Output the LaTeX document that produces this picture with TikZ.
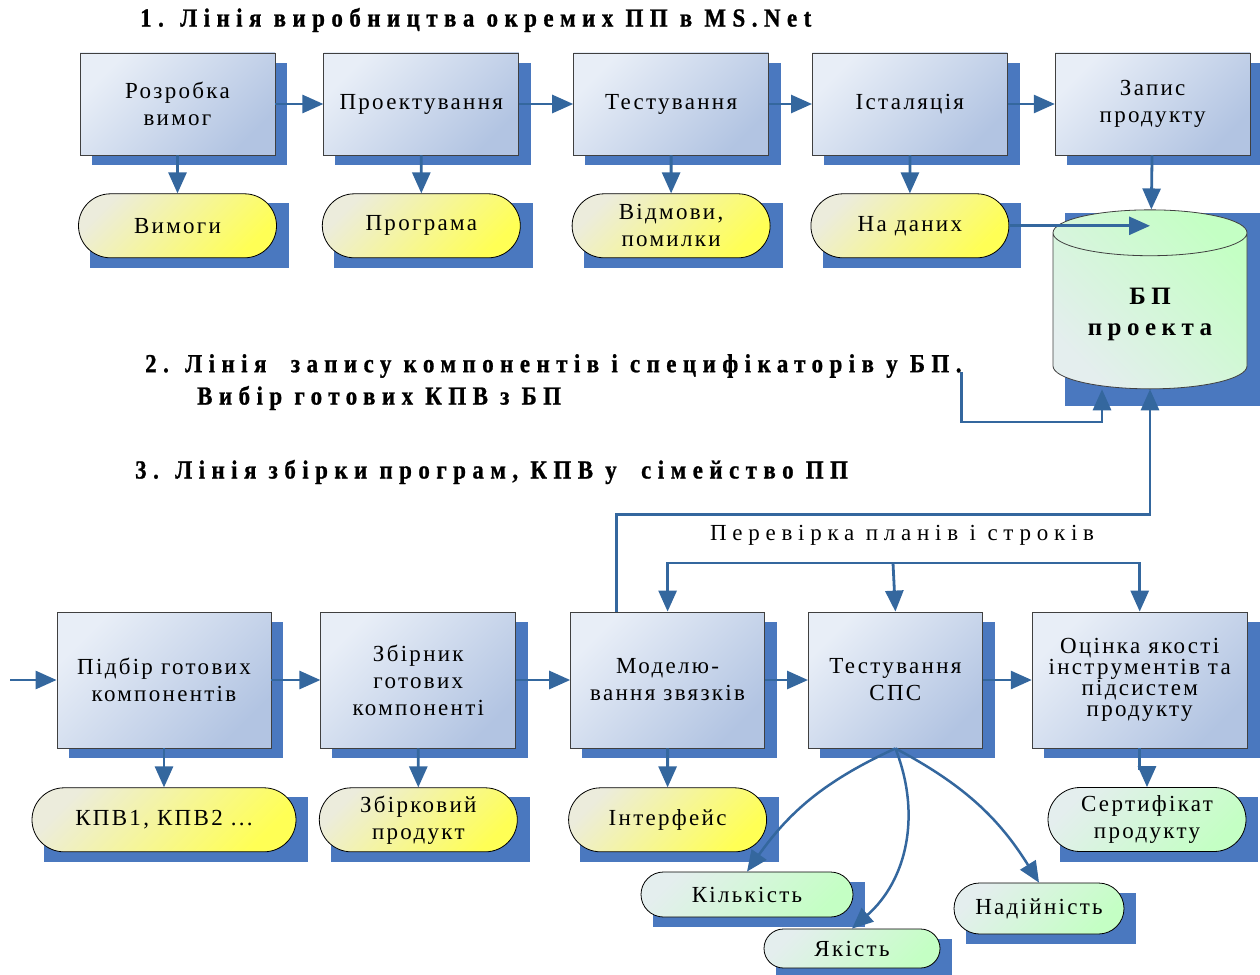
\documentclass[tikz,border=0pt]{standalone}
\usepackage{fontspec}
\setmainfont{Liberation Serif}[LetterSpace=10]
\newfontfamily\titlefont{Liberation Serif}[FakeStretch=0.88,LetterSpace=25,BoldFeatures={FakeBold=1}]
\newfontfamily\bpfont{Liberation Serif}[LetterSpace=22]
\usetikzlibrary{arrows.meta,shapes.geometric,shapes.misc,positioning,calc,backgrounds}
\definecolor{boxlt}{HTML}{E8EEF7}
\definecolor{boxdk}{HTML}{B2C4E2}
\definecolor{shadc}{HTML}{4A78BF}
\definecolor{arrc}{HTML}{34679E}
\definecolor{yellt}{HTML}{ECECDC}
\definecolor{yeldk}{HTML}{FFFF55}
\definecolor{grnlt}{HTML}{E4EEEE}
\definecolor{grndk}{HTML}{C4FFC4}
\tikzstyle{block} = [rectangle, draw=black!75, line width=0.8pt,
    top color=boxlt, bottom color=boxdk, shading angle=45,
    minimum width=195pt, minimum height=102pt, align=center, inner sep=2pt,
    font=\fontsize{23}{27}\selectfont]
\tikzstyle{yel} = [rounded rectangle, draw=black, line width=0.8pt,
    top color=yellt, bottom color=yeldk, shading angle=45,
    minimum width=202pt, minimum height=64pt, align=center, inner sep=2pt,
    font=\fontsize{23}{27}\selectfont]
\tikzstyle{grn} = [yel, top color=grnlt, bottom color=grndk, shading angle=45]
\tikzstyle{title} = [anchor=west, inner sep=0pt, font=\titlefont\bfseries\fontsize{26}{30}\selectfont]
\tikzstyle{arr} = [color=arrc, line width=2.8pt, -{Triangle[length=21pt,width=18pt]}]
\tikzstyle{shad} = [fill=shadc]

\begin{document}
\begin{tikzpicture}[x=1pt,y=-1pt]
  \useasboundingbox (0,0) rectangle (1260,974);
  % 1. production line
  \node[title] (t1) at (140,20) {1. Лінія виробництва окремих ПП в MS.Net};
  \node[block] (razr) at (177.5,104) {Розробка\\вимог};
  \node[block] (proekt) [right=48pt of razr] {Проектування};
  \node[block] (test) [right=54pt of proekt] {Тестування};
  \node[block] (inst) [right=43pt of test] {Істаляція};
  \node[block] (zapys) [right=47pt of inst] {Запис\\продукту};

  \node[yel] (vymogy) [below=38pt of razr] {Вимоги};
  \node[yel] (prohr) [below=38pt of proekt] {Програма};
  \node[yel] (vidm) [below=38pt of test] {Відмови,\\помилки};
  \node[yel] (nadan) [below=38pt of inst] {На даних};

  \node[cylinder, shape border rotate=90, aspect=0.35, draw=black!75, line width=0.8pt,
        top color=grndk, bottom color=grnlt, shading angle=-45,
        minimum width=194pt, minimum height=179pt, align=center,
        font=\bpfont\bfseries\fontsize{25}{31}\selectfont] (bp) at (1150,314) {БП\\проекта};

  % 2. and 3.
  \node[title] (t2a) at (145,366) {2. Лінія~ запису компонентів і специфікаторів у БП.};
  \node[title] (t2b) at (197,398) {Вибір готових КПВ з БП};
  \node[title] (t3) at (135,472) {3. Лінія збірки програм, КПВ у~ сімейство ПП};
  \node[font=\addfontfeatures{LetterSpace=25}\fontsize{23}{27}\selectfont, inner sep=0pt] (perev) at (902,535) {Перевірка планів і строків};

  \coordinate (vhid) at (10,680);
  \coordinate (rozp) at (893,563);
  \node[block, minimum width=214pt, minimum height=136pt] (pidbir) at (164,680) {Підбір готових\\компонентів};
  \node[block, minimum height=136pt] (zbirnyk) [right=49pt of pidbir] {Збірник\\готових\\компоненті};
  \node[block, minimum width=194pt, minimum height=136pt] (model) [right=54pt of zbirnyk] {Моделю-\\вання звязків};
  \node[block, minimum width=174pt, minimum height=136pt] (testsps) [right=43pt of model] {Тестування\\СПС};
  \node[block, minimum width=215pt, minimum height=136pt, font=\fontsize{23}{21}\selectfont] (otsinka) [right=49pt of testsps] {Оцінка якості\\інструментів та\\підсистем\\продукту};

  \node[yel, minimum width=268pt] (kpv) [below=39pt of pidbir] {КПВ1, КПВ2 ...};
  \node[yel] (zbirk) [below=39pt of zbirnyk] {Збірковий\\продукт};
  \node[yel] (interf) [below=39pt of model] {Інтерфейс};
  \node[grn] (sertyf) at (1147,819.5) {Сертифікат\\продукту};
  \node[grn, minimum width=216pt, minimum height=45pt] (kilk) at (747,894.5) {Кількість};
  \node[grn, minimum width=180pt, minimum height=39pt] (yak) at (852,948.5) {Якість};
  \node[grn, minimum width=174pt, minimum height=51pt] (nadiin) at (1039,908.5) {Надійність};

  % shadows
  \begin{scope}[on background layer]
    \foreach \n in {razr,proekt,test,inst,zapys,vymogy,prohr,vidm,nadan,
                    pidbir,zbirnyk,model,testsps,otsinka,kpv,zbirk,interf,sertyf,kilk,yak,nadiin}
      \fill[shad] ($(\n.west |- \n.south)+(12,10)$) rectangle ($(\n.east |- \n.north)+(12,10)$);
    \fill[shad] ($(bp.west |- bp.north)+(12,4)$) rectangle ($(bp.east |- bp.south)+(13,17)$);
  \end{scope}

  \path[arr] (razr) edge (proekt)
        (proekt) edge (test)
        (test) edge (inst)
        (inst) edge (zapys)
        (razr) edge (vymogy)
        (proekt) edge (prohr)
        (test) edge (vidm)
        (inst) edge (nadan)
        (zapys) edge (bp);
  \draw[arr] (nadan.east) -- (nadan.east -| bp.north);
  \draw[arr] ([yshift=-6pt]t2a.east) -- ++(0,50) -| ($(bp.south)+(-48,0)$);
  \draw[arr] ([xshift=-51pt]model.north) -- ++(0,-97) -| (bp.south);

  \draw[arr] (rozp) -| (model.north);
  \draw[arr] (rozp) -- (testsps.north);
  \draw[arr] (rozp) -| (otsinka.north);

  \path[arr] (vhid) edge (pidbir)
        (pidbir) edge (zbirnyk)
        (zbirnyk) edge (model)
        (model) edge (testsps)
        (testsps) edge (otsinka)
        (zbirnyk) edge (zbirk)
        (model) edge (interf);
  \draw[arr] (pidbir.south) -- ++(0,20) -| (kpv.north);
  \draw[arr] (otsinka.south) -- ++(0,20) -| (sertyf.north);
  \path[arr, line width=2.5pt] (testsps.south) edge[bend right=15] (kilk.north)
        (testsps.south) edge[bend left=35] (yak.north)
        (testsps.south) edge[bend left=15] (nadiin.north);
\end{tikzpicture}
\end{document}
